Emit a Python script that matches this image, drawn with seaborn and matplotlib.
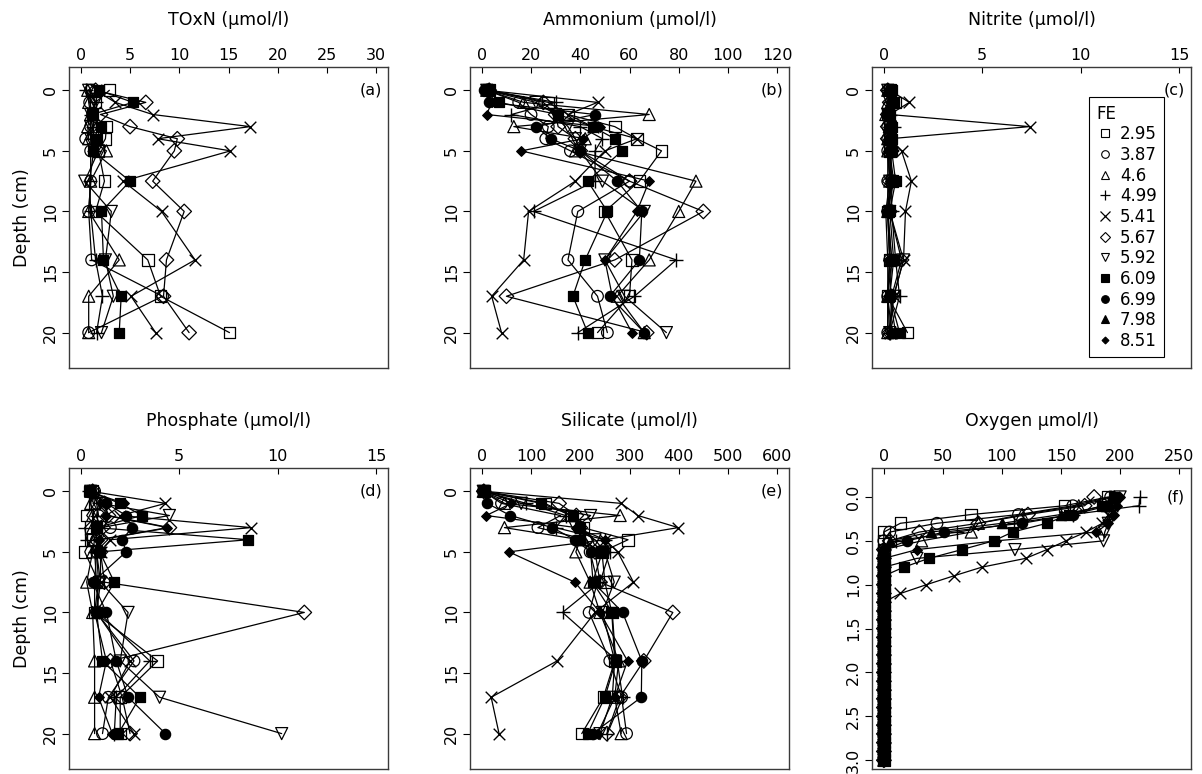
import numpy as np
import pandas as pd
import matplotlib
matplotlib.use("Agg")
import matplotlib.pyplot as plt
from matplotlib.lines import Line2D
import seaborn as sns

##########################################################################################################################
# Porewater profiles for 11 sites (FE)

fe_labels = ['2.95', '3.87', '4.6', '4.99', '5.41', '5.67', '5.92', '6.09', '6.99', '7.98', '8.51']
depth = [0, 1, 2, 3, 4, 5, 7.5, 10, 14, 17, 20]
nan = np.nan

toxn = {
    '2.95': [2.9, 1.5, 1.2, 2.6, 2.5, 1.8, 2.4, 1.5, 6.8, 8.1, 15.1],
    '3.87': [1.0, 0.9, 1.2, 1.0, 0.5, 1.0, 1.0, 0.8, 1.1, 8.3, 0.8],
    '4.6':  [0.7, 0.8, 1.0, 0.7, 0.8, 2.6, 1.0, 0.8, 3.9, 0.8, 0.8],
    '4.99': [0.5, 1.5, 1.0, 1.2, 1.0, 1.3, 0.9, 1.0, 1.5, 2.2, 1.6],
    '5.41': [1.5, 3.5, 7.3, 17.2, 7.8, 15.2, 4.3, 8.2, 11.6, 5.1, 7.6],
    '5.67': [1.5, 6.6, 2.0, 5.0, 9.8, 9.5, 7.3, 10.5, 8.7, 8.4, 11.0],
    '5.92': [0.8, 1.5, 1.0, 1.0, 1.0, 1.8, 0.4, 3.1, 2.5, 3.3, 2.1],
    '6.09': [1.8, 5.3, 1.1, 2.1, 1.6, 1.2, 5.0, 2.1, 2.3, 4.1, 3.9],
    '6.99': [nan] * 11,
    '7.98': [nan] * 11,
    '8.51': [nan] * 11,
}

ammonium = {
    '2.95': [3, 27, 35, 54, 63, 73, 64, 50, 61, 60, 47],
    '3.87': [2, 15, 20, 27, 26, 36, 60, 39, 35, 47, 51],
    '4.6':  [2, 17, 68, 13, 42, 38, 87, 80, 68, 55, 66],
    '4.99': [2, 30, 12, 40, 49, 46, 46, 21, 79, 62, 39],
    '5.41': [2, 47, 35, 45, 63, 50, 38, 19, 17, 4, 8],
    '5.67': [3, 25, 30, 31, 38, 40, 60, 90, 54, 10, 67],
    '5.92': [2, 22, 30, 35, 38, 40, 49, 66, 50, 58, 75],
    '6.09': [3, 7, 31, 45, 54, 57, 43, 51, 42, 37, 43],
    '6.99': [1, 3, 46, 22, 28, 40, 55, 65, 64, 52, 66],
    '7.98': [nan] * 11,
    '8.51': [1, 4, 2, 48, 41, 16, 68, 63, 50, 53, 61],
}

nitrite = {
    '2.95': [0.3, 0.6, 0.2, 0.3, 0.3, 0.3, 0.4, 0.2, 0.3, 0.2, 1.2],
    '3.87': [0.2, 0.5, 0.2, 0.2, 0.2, 0.2, 0.2, 0.2, 0.3, 0.2, 0.2],
    '4.6':  [0.2, 0.2, 0.1, 0.3, 0.2, 0.2, 0.3, 0.2, 0.4, 0.2, 0.2],
    '4.99': [0.2, 0.3, 0.3, 0.5, 0.3, 0.3, 0.4, 0.4, 0.6, 0.8, 0.3],
    '5.41': [0.3, 1.3, 0.3, 7.4, 0.3, 0.9, 1.4, 1.1, 1.0, 0.5, 0.3],
    '5.67': [0.2, 0.3, 0.2, 0.2, 0.2, 0.4, 0.3, 0.3, 0.9, 0.4, 0.3],
    '5.92': [0.2, 0.3, 0.2, 0.3, 0.3, 0.3, 0.3, 0.3, 1.0, 0.5, 0.3],
    '6.09': [0.4, 0.5, 0.3, 0.4, 0.4, 0.4, 0.6, 0.3, 0.5, 0.3, 0.8],
    '6.99': [0.3, 0.4, 0.2, 0.3, 0.3, 0.3, 0.5, 0.2, 0.4, 0.3, 0.6],
    '7.98': [0.2, 0.3, 0.2, 0.2, 0.2, 0.3, 0.4, 0.2, 0.3, 0.2, 0.4],
    '8.51': [0.2, 0.3, 0.1, 0.2, 0.2, 0.2, 0.3, 0.1, 0.2, 0.2, 0.3],
}

phosphate = {
    '2.95': [0.6, 0.7, 0.3, 0.8, 0.5, 0.2, 0.9, 0.7, 3.9, 2.0, 2.0],
    '3.87': [0.7, 0.8, 0.9, 1.5, 0.8, 0.8, 0.9, 0.8, 2.7, 1.4, 1.1],
    '4.6':  [0.5, 0.5, 0.6, 0.6, 0.7, 0.6, 0.3, 0.6, 0.7, 0.7, 0.7],
    '4.99': [0.4, 0.9, 0.8, 0.2, 0.3, 0.7, 0.8, 0.9, 3.5, 1.8, 1.7],
    '5.41': [0.5, 4.3, 2.0, 8.65, 1.5, 1.0, 1.0, 0.8, 2.5, 1.5, 2.7],
    '5.67': [0.6, 1.2, 1.4, 4.5, 1.0, 1.0, 1.2, 11.35, 1.5, 2.1, 2.5],
    '5.92': [0.5, 1.0, 4.5, 1.0, 0.9, 0.8, 1.0, 2.4, 2.0, 4.0, 10.2],
    '6.09': [0.4, 2.0, 3.1, 0.8, 8.5, 0.96, 1.7, 0.8, 1.1, 3.0, 1.9],
    '6.99': [0.5, 1.3, 2.3, 2.6, 2.1, 2.3, 0.6, 1.3, 1.8, 2.4, 4.3],
    '7.98': [nan] * 11,
    '8.51': [0.4, 2.2, 1.3, 4.4, 0.9, 0.8, 0.7, 0.7, 1.3, 0.9, 1.6],
}

silicate = {
    '2.95': [5, 128, 180, 205, 297, 244, 250, 264, 270, 247, 203],
    '3.87': [3, 40, 160, 114, 213, 220, 235, 218, 260, 284, 294],
    '4.6':  [3, 46, 281, 46, 200, 191, 220, 240, 278, 270, 283],
    '4.99': [3, 90, 170, 150, 250, 260, 240, 164, 275, 286, 255],
    '5.41': [5, 283, 317, 399, 250, 276, 308, 230, 153, 19, 35],
    '5.67': [4, 157, 192, 200, 213, 230, 240, 388, 329, 280, 254],
    '5.92': [3, 80, 221, 190, 230, 250, 269, 245, 270, 265, 240],
    '6.09': [4, 120, 185, 200, 200, 245, 225, 265, 272, 250, 215],
    '6.99': [2, 11, 58, 143, 189, 221, 226, 286, 325, 324, 225],
    '7.98': [nan] * 11,
    '8.51': [2, 60, 9, 192, 250, 55, 189, 240, 296, 270, 235],
}

# oxygen microprofiles, 0.1 cm steps; below the listed values every site reads 0
o2_depth = [0.0, 0.1, 0.2, 0.3, 0.4, 0.5, 0.6, 0.7, 0.8, 0.9, 1.0, 1.1, 1.2, 1.3, 1.4, 1.5,
            1.6, 1.7, 1.8, 1.9, 2.0, 2.1, 2.2, 2.3, 2.4, 2.5, 2.6, 2.7, 2.8, 2.9, 3.0]
o2_top = {
    '2.95': [190, 153, 74, 14, 0],
    '3.87': [192, 160, 114, 45, 5, 0],
    '4.6':  [195, 165, 117, 80, 74, 32, 0],
    '4.99': [217, 216, 160, 110, 62, 10, 0],
    '5.41': [195, 193, 190, 185, 171, 154, 138, 120, 83, 59, 36, 14, 0],
    '5.67': [178, 170, 122, 80, 30, 5, 0],
    '5.92': [200, 195, 192, 190, 187, 186, 111, 28, 0],
    '6.09': [195, 185, 157, 138, 109, 93, 66, 38, 17, 0],
    '6.99': [195, 190, 160, 117, 51, 20, 0],
    '7.98': [193, 188, 150, 100, 40, 5, 0],
    '8.51': [200, 197, 195, 190, 180, 95, 28, 0],
}
oxygen = {k: v + [0] * (len(o2_depth) - len(v)) for k, v in o2_top.items()}

# marker per site: (marker, filled, size)
marker_style = {
    '2.95': ('s', False, 70), '3.87': ('o', False, 70), '4.6': ('^', False, 75),
    '4.99': ('+', None, 100), '5.41': ('x', None, 70), '5.67': ('D', False, 55),
    '5.92': ('v', False, 75), '6.09': ('s', True, 60), '6.99': ('o', True, 55),
    '7.98': ('^', True, 55), '8.51': ('D', True, 24),
}


def to_long(values, depths):
    frames = []
    for fe in fe_labels:
        frames.append(pd.DataFrame({'fe': fe, 'depth': depths, 'value': values[fe]}))
    return pd.concat(frames, ignore_index=True).dropna()


sns.set_style('white')
plt.rcParams['font.family'] = ['DejaVu Sans']
plt.rcParams['text.color'] = 'black'
plt.rcParams['xtick.color'] = 'black'
plt.rcParams['ytick.color'] = 'black'
plt.rcParams['axes.labelcolor'] = 'black'

fig = plt.figure(figsize=(12.02, 7.74), dpi=100)

W, H = 1202, 774
lefts = [69, 470, 872]
tops = [67, 468]
aw, ah = 319, 301

panels = [
    ('TOxN (µmol/l)', toxn, depth, (0, 30), np.arange(0, 31, 5), '(a)'),
    ('Ammonium (µmol/l)', ammonium, depth, (0, 120), np.arange(0, 121, 20), '(b)'),
    ('Nitrite (µmol/l)', nitrite, depth, (0, 15), np.arange(0, 16, 5), '(c)'),
    ('Phosphate (µmol/l)', phosphate, depth, (0, 15), np.arange(0, 16, 5), '(d)'),
    ('Silicate (µmol/l)', silicate, depth, (0, 600), np.arange(0, 601, 100), '(e)'),
    ('Oxygen µmol/l)', oxygen, o2_depth, (0, 250), np.arange(0, 251, 50), '(f)'),
]

axes = []
for i, (title, values, depths, xr, xt, tag) in enumerate(panels):
    row, col = divmod(i, 3)
    ax = fig.add_axes([lefts[col] / W, 1 - (tops[row] + ah) / H, aw / W, ah / H])
    axes.append(ax)
    df = to_long(values, depths)

    sns.lineplot(data=df, x='value', y='depth', units='fe', estimator=None, sort=False,
                 color='black', linewidth=0.9, legend=False, ax=ax, zorder=2)
    for fe in fe_labels:
        sub = df[df['fe'] == fe]
        if sub.empty:
            continue
        m, filled, s = marker_style[fe]
        if filled is None:
            sns.scatterplot(data=sub, x='value', y='depth', marker=m, s=s, color='black',
                            linewidth=1.0, legend=False, ax=ax, zorder=3)
        else:
            sns.scatterplot(data=sub, x='value', y='depth', marker=m, s=s, color='black',
                            facecolor='black' if filled else 'none', edgecolor='black',
                            linewidth=0.9, legend=False, ax=ax, zorder=3)

    r = xr[1] - xr[0]
    ax.set_xlim(xr[0] - 0.04 * r, xr[1] + 0.04 * r)
    ax.xaxis.tick_top()
    ax.set_xticks(xt)
    ax.set_xticklabels([str(v) for v in xt])
    if tag == '(f)':
        ax.set_ylim(3.10, -0.33)
        yt = [0.0, 0.5, 1.0, 1.5, 2.0, 2.5, 3.0]
        ax.set_yticks(yt)
        ax.set_yticklabels([f'{v:.1f}' for v in yt])
    else:
        ax.set_ylim(22.92, -1.92)
        ax.set_yticks([0, 5, 10, 15, 20])
        ax.set_yticklabels(['0', '5', '10', '15', '20'])
    ax.set_xlabel('')
    ax.set_ylabel('')

    ax.tick_params(axis='x', direction='in', length=4, width=0.8, pad=3, labelsize=11.5,
                   top=True, bottom=False, labeltop=True, labelbottom=False)
    ax.tick_params(axis='y', direction='out', length=5, width=0.8, pad=3, labelsize=11.5,
                   left=True)
    for lab in ax.get_yticklabels():
        lab.set_rotation(90)
        lab.set_va('center')
    for sp in ax.spines.values():
        sp.set_visible(True)
        sp.set_color('#3a3a3a')
        sp.set_linewidth(1.0)

    ax.text(0.5, 1 + 47 / ah, title, transform=ax.transAxes, ha='center', va='center',
            fontsize=12.5)
    ytag = 0.905 if tag == '(f)' else 0.925
    ax.text(1 - 6 / aw, ytag, tag, transform=ax.transAxes, ha='right', va='center',
            fontsize=11.5)

fig.text(22 / W, 1 - (67 + 150.5) / H, 'Depth (cm)', rotation=90, ha='center', va='center',
         fontsize=12.5)
fig.text(22 / W, 1 - (468 + 150.5) / H, 'Depth (cm)', rotation=90, ha='center', va='center',
         fontsize=12.5)

# legend in the nitrite panel
handles = []
for fe in fe_labels:
    m, filled, s = marker_style[fe]
    ms = 6.5 if fe != '8.51' else 4.5
    if filled is None:
        handles.append(Line2D([], [], linestyle='none', marker=m, markersize=ms, color='black',
                              markeredgewidth=0.9))
    else:
        handles.append(Line2D([], [], linestyle='none', marker=m, markersize=ms - 1,
                              markerfacecolor='black' if filled else 'none',
                              markeredgecolor='black', markeredgewidth=0.8))
leg = axes[2].legend(handles, fe_labels, title='FE', loc='upper left',
                     bbox_to_anchor=(0.68, 0.90), borderaxespad=0, fontsize=12,
                     title_fontsize=12, labelspacing=0.16, handlelength=1.0,
                     handletextpad=0.4, borderpad=0.45, frameon=True, fancybox=False,
                     framealpha=1, edgecolor='black')
leg.get_frame().set_linewidth(0.8)
leg._legend_box.align = 'left'

plt.savefig('out.png', dpi=100)
